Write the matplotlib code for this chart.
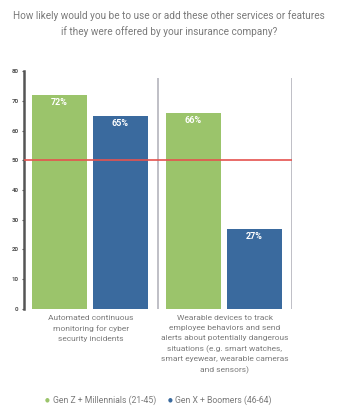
import matplotlib.pyplot as plt
import numpy as np

plt.rcParams["font.family"] = ["Roboto", "DejaVu Sans"]

CATEGORIES = [
    "Automated continuous\nmonitoring for cyber\nsecurity incidents",
    "Wearable devices to track\nemployee behaviors and send\nalerts about potentially dangerous\n"
    "situations (e.g. smart watches,\nsmart eyewear, wearable cameras\nand sensors)",
]
SERIES = ["Gen Z + Millennials (21-45)", "Gen X + Boomers (46-64)"]
GEN_Z = [72, 66]
GEN_X = [65, 27]
THRESHOLD = 50
Y_TICKS = [0, 10, 20, 30, 40, 50, 60, 70, 80]

GREEN = "#9bc46b"
BLUE = "#3a6a9e"
TEXT = "#7a7a7a"

fig = plt.figure(figsize=(3.63, 4.18), dpi=100)
ax = fig.add_axes([0.065, 0.261, 0.739, 0.569])

x = np.arange(len(CATEGORIES))
width = 0.41
offsets = [0.265, 0.72]

for vals, color, off in zip([GEN_Z, GEN_X], [GREEN, BLUE], offsets):
    bars = ax.bar(x + off, vals, width=width, color=color, zorder=2)
    for b, v in zip(bars, vals):
        ax.text(b.get_x() + b.get_width() / 2, v - 1.2, "{}%".format(v),
                ha="center", va="top", color="white", fontsize=6.5,
                fontweight="bold", zorder=4)

# category separators
ax.vlines([1, 2], 0, 77.5, color="#b4b4bc", linewidth=1.2, zorder=1)
ax.axhline(THRESHOLD, color="#e5534f", linewidth=1.2, zorder=3)

ax.set_xlim(0, 2)
ax.set_ylim(0, 80)
ax.set_yticks(Y_TICKS)
ax.tick_params(axis="y", labelsize=4.5, labelcolor="#555555", length=1.5,
               width=0.8, color="#555555", pad=2)
for lab in ax.get_yticklabels():
    lab.set_fontweight("bold")
ax.set_xticks([])
for side in ["top", "right", "bottom"]:
    ax.spines[side].set_visible(False)
ax.spines["left"].set_linewidth(1.8)
ax.spines["left"].set_color("#555555")

for i, cat in enumerate(CATEGORIES):
    ax.text(i + 0.5, -2.2, cat, ha="center", va="top", fontsize=6.0,
            color=TEXT, linespacing=1.72, transform=ax.transData)

fig.text(0.466, 0.975,
         "How likely would you be to use or add these other services or features\n"
         "if they were offered by your insurance company?",
         ha="center", va="top", fontsize=7.2, color=TEXT, linespacing=1.55)

# legend
fig.text(0.13, 0.043, "\u25cf", color=GREEN, fontsize=4, ha="center", va="center")
fig.text(0.145, 0.043, SERIES[0], color=TEXT, fontsize=6.2, ha="left", va="center")
fig.text(0.468, 0.043, "\u25cf", color=BLUE, fontsize=4, ha="center", va="center")
fig.text(0.481, 0.043, SERIES[1], color=TEXT, fontsize=6.2, ha="left", va="center")

fig.savefig("out.png", dpi=100)
